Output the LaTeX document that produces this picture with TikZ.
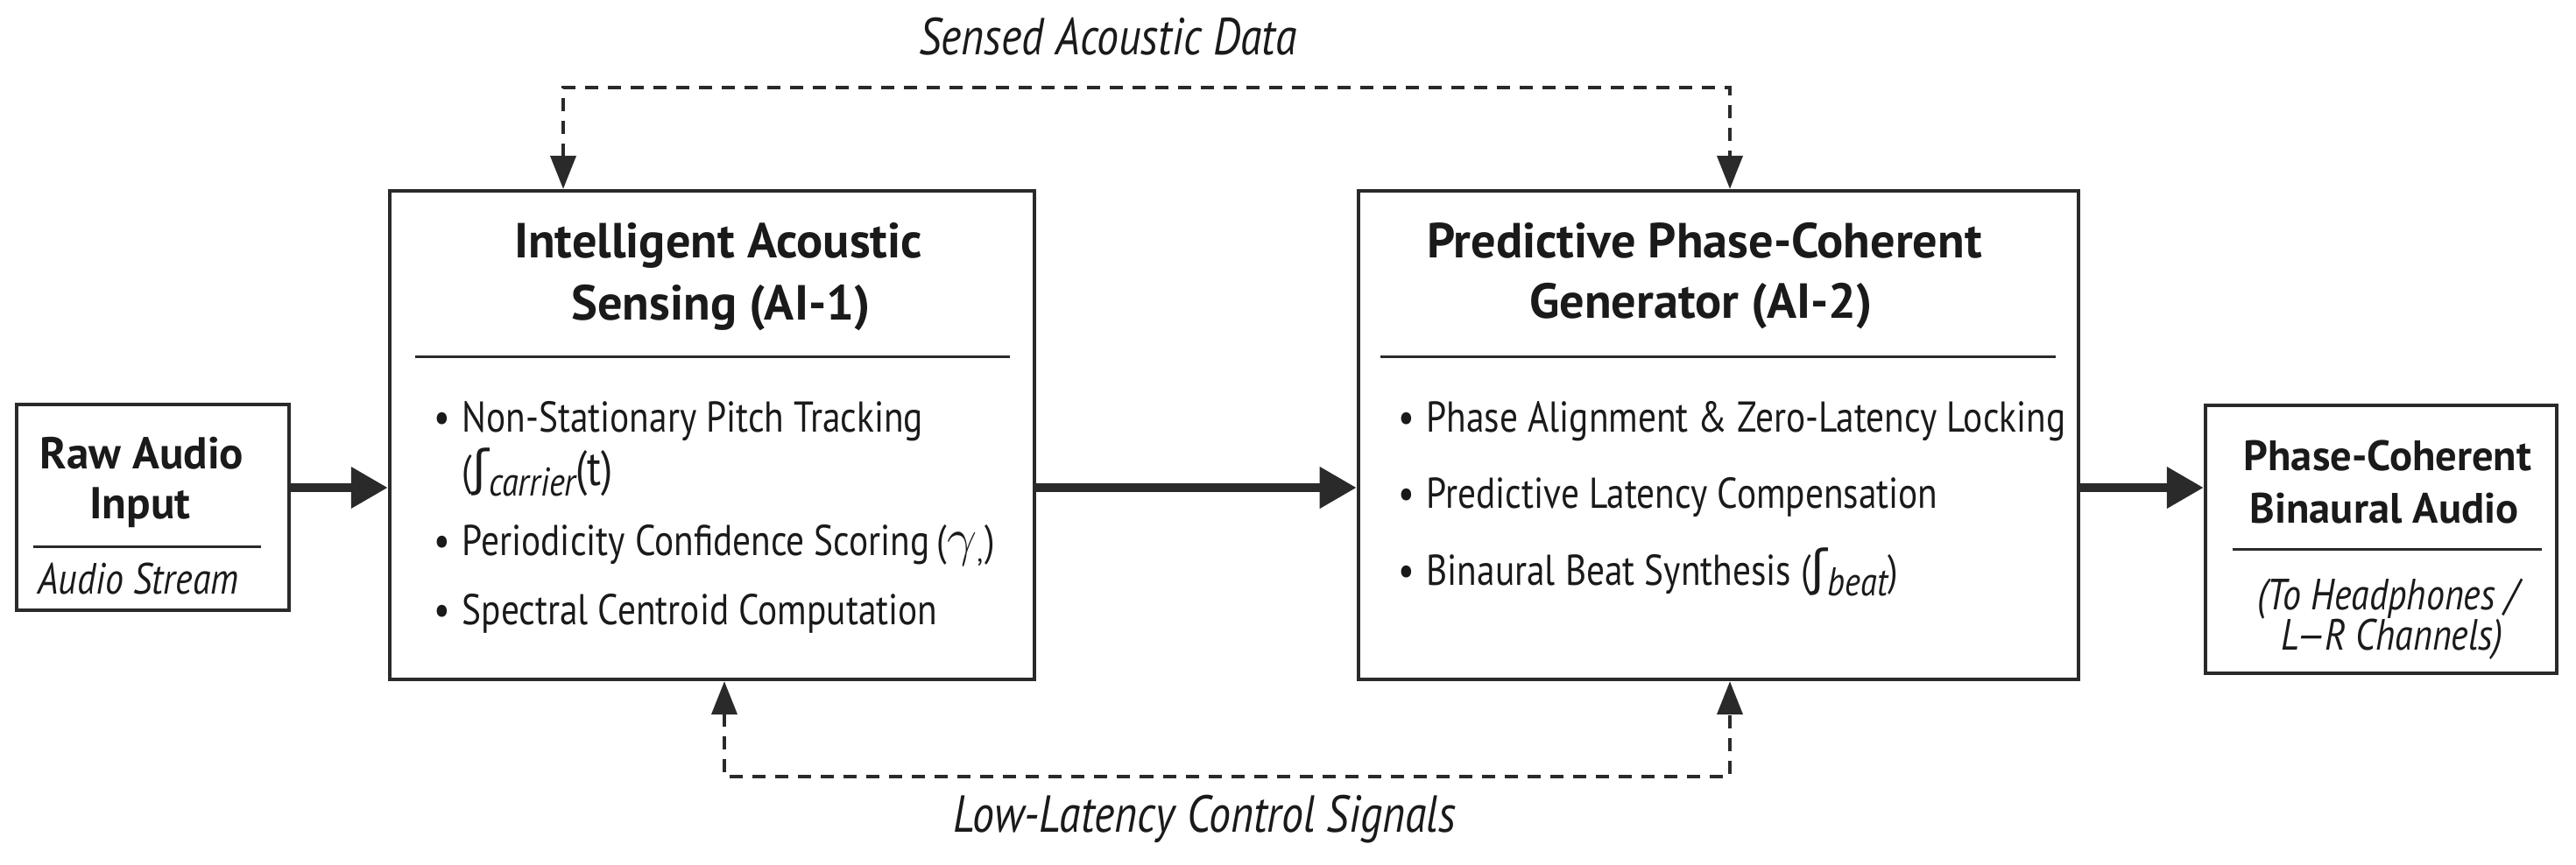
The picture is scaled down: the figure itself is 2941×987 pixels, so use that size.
\documentclass[tikz,border=0pt]{standalone}
\usepackage{fontspec}
\setmainfont{PT Sans}[FakeStretch=0.84]
\newfontfamily\ttlfont{PT Sans}
\newfontfamily\symfont{DejaVu Sans}
\usetikzlibrary{arrows.meta}
\definecolor{ink}{HTML}{2A2A2A}
\definecolor{txt}{HTML}{1A1A1A}
\newcommand\bul{\makebox[0.32cm][l]{•}}
\newcommand\fsym{{\symfont\fontsize{16}{16}\selectfont ʃ}}
\newcommand\subtx[1]{\raisebox{-0.5ex}{\fontsize{13}{13}\selectfont\itshape #1}}
\begin{document}
\begin{tikzpicture}[x=0.01cm,y=-0.01cm,
  box/.style={draw=ink,line width=0.04cm,fill=white,inner sep=0pt},
  divline/.style={draw=ink,line width=0.03cm},
  bigttl/.style={anchor=base,inner sep=0pt,text=txt,font=\ttlfont\fontsize{16}{19}\selectfont\bfseries},
  smttl/.style={anchor=base,inner sep=0pt,text=txt,font=\ttlfont\fontsize{14.5}{17}\selectfont\bfseries},
  outttl/.style={anchor=base,inner sep=0pt,text=txt,font=\ttlfont\fontsize{13.8}{16}\selectfont\bfseries},
  itl/.style={anchor=base,inner sep=0pt,text=txt,font=\fontsize{14.2}{17}\selectfont\itshape},
  lbl/.style={anchor=base,inner sep=0pt,text=txt,font=\fontsize{16.9}{20}\selectfont\itshape},
  bultx/.style={anchor=base west,inner sep=0pt,text=txt,font=\fontsize{14}{17}\selectfont},
  flow/.style={draw=ink,line width=0.1cm,-{Triangle[length=0.42cm,width=0.45cm]}},
  dconn/.style={draw=ink,line width=0.04cm,dash pattern=on 0.15cm off 0.11cm,
     {Triangle[length=0.38cm,width=0.29cm]}-{Triangle[length=0.38cm,width=0.29cm]}}
]
\useasboundingbox (0,0) rectangle (2941,987);

% boxes
\node[box,minimum width=3.11cm,minimum height=2.35cm] (raw) at (174.5,579.5) {};
\node[box,minimum width=7.36cm,minimum height=5.58cm] (ai1) at (813,497) {};
\node[box,minimum width=8.22cm,minimum height=5.58cm] (ai2) at (1962,497) {};
\node[box,minimum width=4.01cm,minimum height=3.06cm] (out) at (2718.5,616) {};

% raw input
\node[smttl] (rawt1) at (162,535) {Raw Audio};
\node[smttl] (rawt2) at (160,592) {Input};
\draw[divline] (38,624) -- (298,624);
\node[itl] (rawsub) at (158,678) {Audio Stream};

% AI-1
\node[bigttl] (ai1t1) at (820,294) {Intelligent Acoustic};
\node[bigttl] (ai1t2) at (823,365) {Sensing (AI-1)};
\draw[divline] (474,407) -- (1153,407);
\node[bultx] (ai1b1) at (495,493) {\bul Non-Stationary Pitch Tracking};
\node[bultx] (ai1b1b) at (527,554) {(\fsym\subtx{carrier}{\fontsize{16}{16}\selectfont(t)}};
\node[bultx] (ai1b2) at (495,634) {\bul Periodicity Confidence Scoring\,({\fontsize{16}{16}\selectfont$\gamma$}\textsubscript{,})};
\node[bultx] (ai1b3) at (495,713) {\bul Spectral Centroid Computation};

% AI-2
\node[bigttl] (ai2t1) at (1946,294) {Predictive Phase-Coherent};
\node[bigttl] (ai2t2) at (1942,363) {Generator (AI-2)};
\draw[divline] (1576,407) -- (2347,407);
\node[bultx] (ai2b1) at (1596,493) {\bul Phase Alignment \& Zero-Latency Locking};
\node[bultx] (ai2b2) at (1596,580) {\bul Predictive Latency Compensation};
\node[bultx] (ai2b3) at (1596,668) {\bul Binaural Beat Synthesis (\fsym\subtx{beat})};

% output
\node[outttl] (outt1) at (2726,537) {Phase-Coherent};
\node[outttl] (outt2) at (2722,597) {Binaural Audio};
\draw[divline] (2549,627) -- (2902,627);
\node[itl] (outs1) at (2726,696) {(To Headphones /};
\node[itl] (outs2) at (2731,742) {L—R Channels)};

% main flow
\coordinate (ay) at (0,557);
\draw[flow] (raw.east |- ay) -- (ai1.west |- ay);
\draw[flow] (ai1.east |- ay) -- (ai2.west |- ay);
\draw[flow] (ai2.east |- ay) -- (out.west |- ay);

% feedback connectors
\coordinate (tl) at (643,100);
\coordinate (tr) at (1975,100);
\draw[dconn] (ai1.north -| tl) -- (tl) -- (tr) -- (ai2.north -| tr);
\node[lbl] (toplbl) at (1265,62) {Sensed Acoustic Data};

\coordinate (bl) at (827,887);
\coordinate (br) at (1975,887);
\draw[dconn] (ai1.south -| bl) -- (bl) -- (br) -- (ai2.south -| br);
\node[lbl] (botlbl) at (1375,950) {Low-Latency Control Signals};
\end{tikzpicture}
\end{document}
